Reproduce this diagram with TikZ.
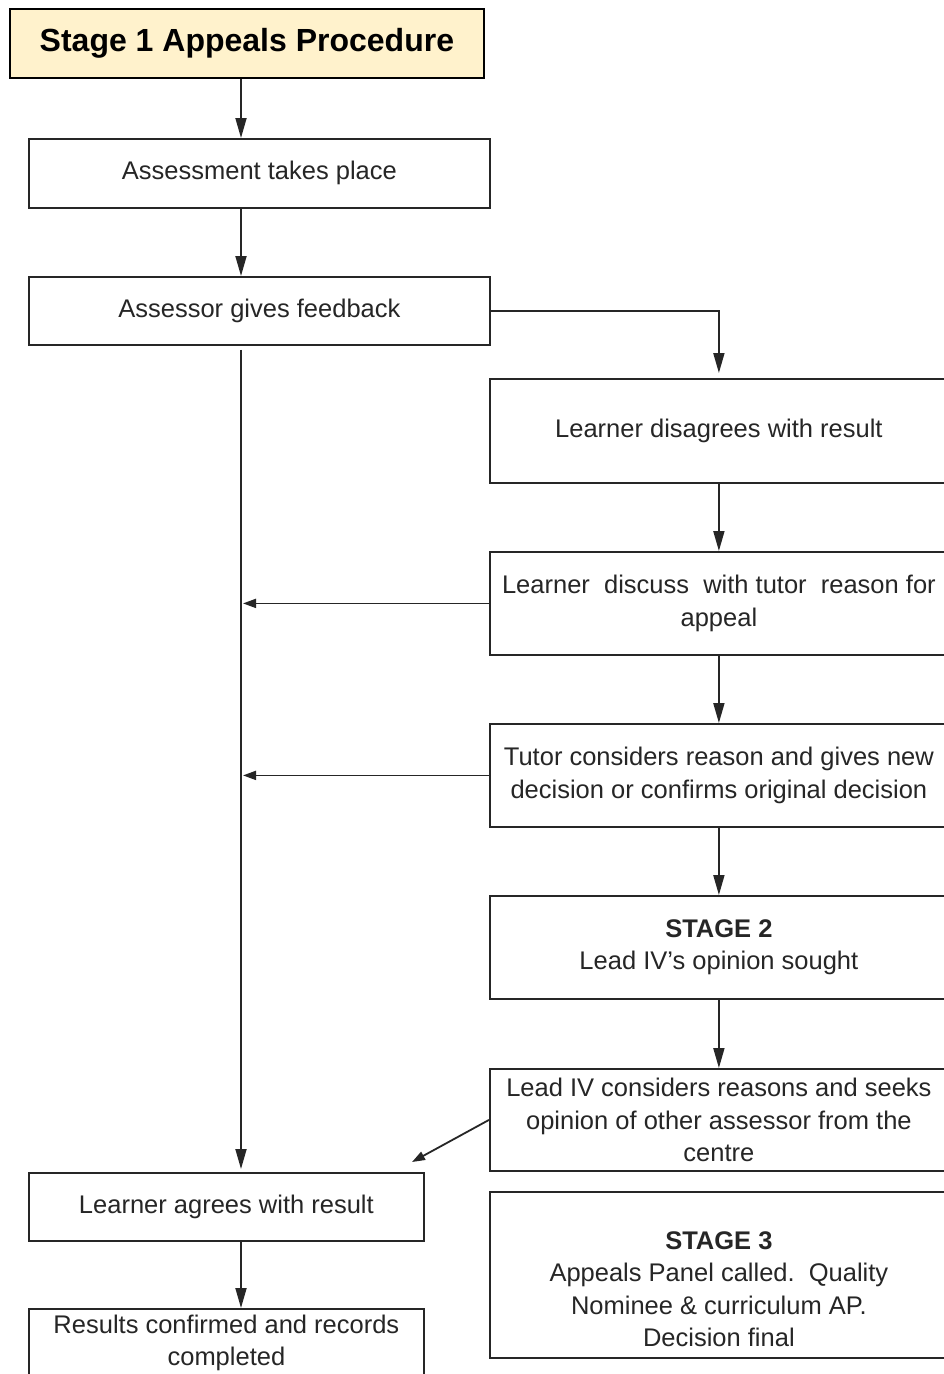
\documentclass[tikz,border=0pt]{standalone}
\usepackage{fontspec}
\setmainfont{Liberation Sans}
\usetikzlibrary{arrows.meta}
\definecolor{titlefill}{HTML}{FFF2CC}
\definecolor{ink}{HTML}{262626}
\begin{document}
\begin{tikzpicture}[x=1pt,y=-1pt,
  box/.style={draw=ink, line width=1.8pt, rectangle, anchor=north west, inner sep=0pt,
    align=center, font=\fontsize{25.5}{32.5}\selectfont, text=ink},
  arr/.style={draw=ink, line width=1.8pt, -{Triangle[length=20pt,width=11pt]}},
  sarr/.style={draw=ink, line width=1.8pt, -{Triangle[length=13pt,width=9pt]}}]
\clip (0,0) rectangle (944,1374);
\fill[white] (0,0) rectangle (944,1374);
\coordinate (xl) at (241,0);
\coordinate (xr) at (718,0);
\node[box, fill=titlefill, draw=black, text=black, font=\fontsize{32}{38}\selectfont\bfseries,
  minimum width=474pt, minimum height=69pt] (title) at (9,8) {Stage 1 Appeals Procedure};
\node[box, minimum width=461pt, minimum height=69pt] (assess) at (28,138) {Assessment takes place};
\node[box, minimum width=461pt, minimum height=68pt] (feed) at (28,276) {Assessor gives feedback};
\node[box, minimum width=458pt, minimum height=104pt] (disagree) at (489,378) {Learner disagrees with result};
\node[box, minimum width=458pt, minimum height=103pt] (discuss) at (489,551) {Learner\ \ discuss\ \ with tutor\ \ reason for\\appeal};
\node[box, minimum width=458pt, minimum height=103pt] (tutor) at (489,723) {Tutor considers reason and gives new\\decision or confirms original decision};
\node[box, minimum width=458pt, minimum height=103pt] (stage2) at (489,895) {\textbf{STAGE 2}\\Lead IV’s opinion sought};
\node[box, minimum width=458pt, minimum height=102pt] (leadiv) at (489,1068) {Lead IV considers reasons and seeks\\opinion of other assessor from the\\centre};
\node[box, minimum width=395pt, minimum height=68pt] (agree) at (28,1172) {Learner agrees with result};
\node[box, minimum width=395pt, minimum height=68pt] (results) at (28,1308) {Results confirmed and records\\completed};
\node[box, minimum width=458pt, minimum height=166pt] (stage3) at (489,1191) {\mbox{}\\[14pt]\textbf{STAGE 3}\\Appeals Panel called.\ \ Quality\\Nominee \& curriculum AP.\\Decision final};
\coordinate (dg) at (412,1162);
\draw[arr] (title.south -| xl) -- (assess.north -| xl);
\draw[arr] (assess.south -| xl) -- (feed.north -| xl);
\draw[arr, shorten >=5pt] (feed.east) -| (disagree.north);
\draw[arr, shorten <=4pt, shorten >=3pt] (feed.south -| xl) -- (agree.north -| xl);
\draw[arr] (disagree.south) -- (discuss.north);
\draw[arr] (discuss.south) -- (tutor.north);
\draw[arr] (tutor.south) -- (stage2.north);
\draw[arr] (stage2.south) -- (leadiv.north);
\draw[sarr, shorten >=2pt] (discuss.west) -- (discuss.west -| xl);
\draw[sarr, shorten >=2pt] (tutor.west) -- (tutor.west -| xl);
\draw[sarr] (leadiv.west) -- (dg);
\draw[arr] (agree.south -| xl) -- (results.north -| xl);
\end{tikzpicture}
\end{document}
